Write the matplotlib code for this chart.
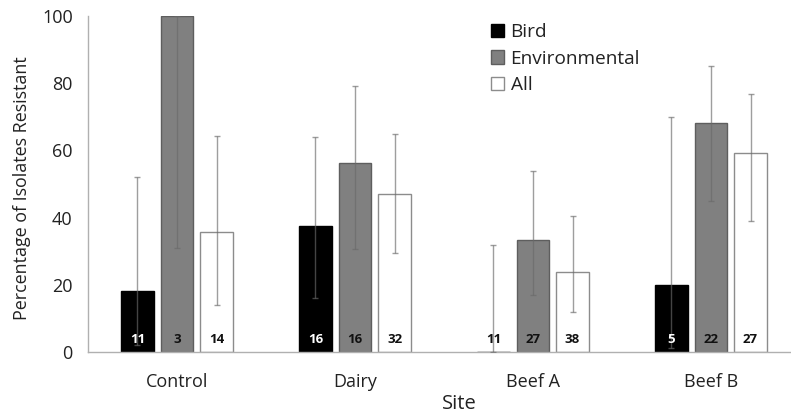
import matplotlib
matplotlib.use("Agg")
import matplotlib.pyplot as plt
import numpy as np
from matplotlib.patches import Patch

plt.rcParams['font.family'] = ['Open Sans', 'DejaVu Sans']

sites = ["Control", "Dairy", "Beef A", "Beef B"]
series = ["Bird", "Environmental", "All"]

# percentage of isolates resistant
bird_pct = [18.2, 37.5, 0.0, 20.0]
env_pct = [100.0, 56.25, 33.3, 68.2]
all_pct = [35.7, 46.9, 23.7, 59.3]

# confidence interval bounds
bird_lo = [2.0, 16.2, 0.0, 1.1]
bird_hi = [52.1, 63.9, 31.9, 69.8]
env_lo = [30.9, 30.7, 17.1, 44.8]
env_hi = [100.0, 79.1, 54.0, 85.0]
all_lo = [13.9, 29.4, 11.9, 38.9]
all_hi = [64.2, 64.9, 40.5, 76.7]

# number of isolates
bird_n = [11, 16, 11, 5]
env_n = [3, 16, 27, 22]
all_n = [14, 32, 38, 27]

fig = plt.figure(figsize=(7.91, 4.13), dpi=100)
ax = fig.add_axes([88 / 791, 61 / 413, (800 - 88) / 791, 336 / 413])

x = np.arange(len(sites))
step = 0.222
width = 0.18

styles = [
    dict(face="#000000", edge="#000000", txt="white"),
    dict(face="#808080", edge="#5e5e5e", txt="#111111"),
    dict(face="#ffffff", edge="#8c8c8c", txt="#111111"),
]
vals = [bird_pct, env_pct, all_pct]
los = [bird_lo, env_lo, all_lo]
his = [bird_hi, env_hi, all_hi]
ns = [bird_n, env_n, all_n]

for i, (v, lo, hi, n, st) in enumerate(zip(vals, los, his, ns, styles)):
    pos = x + (i - 1) * step
    v = np.array(v)
    ax.bar(pos, v, width=width, color=st["face"], edgecolor=st["edge"],
           linewidth=1.0, zorder=2)
    yerr = np.vstack([v - np.array(lo), np.array(hi) - v])
    ax.errorbar(pos, v, yerr=yerr, fmt="none", ecolor="#6a6a6a", alpha=0.65,
                elinewidth=1.0, capsize=2.5, capthick=1.0, zorder=3)
    for p, val, cnt in zip(pos, v, n):
        color = st["txt"] if val > 0 else "#111111"
        ax.text(p, 3.6, str(cnt), ha="center", va="center", fontsize=9.5,
                fontweight="bold", color=color, zorder=4)

text_color = "#222222"
ax.set_xlim(-0.5, 3.5)
ax.set_ylim(0, 100)
ax.set_yticks([0, 20, 40, 60, 80, 100])
ax.set_xticks(x)
ax.set_xticklabels(sites, fontsize=13, color=text_color)
ax.tick_params(axis="y", labelsize=13, length=0, pad=11, labelcolor=text_color)
ax.tick_params(axis="x", length=0, pad=15)
for s in ["top", "right"]:
    ax.spines[s].set_visible(False)
for s in ["left", "bottom"]:
    ax.spines[s].set_color("#b0b0b0")
    ax.spines[s].set_linewidth(1.0)

ax.set_ylabel("Percentage of Isolates Resistant", fontsize=12.9,
              color=text_color)
ax.yaxis.set_label_coords(-57 / 712, 0.487)
fig.text(459 / 791, 1 - 404 / 413, "Site", ha="center", va="center",
         fontsize=14.5, color=text_color)

handles = [Patch(facecolor=st["face"], edgecolor=st["edge"], linewidth=1.0)
           for st in styles]
leg = ax.legend(handles, series, loc="upper left",
                bbox_to_anchor=((483 - 88) / 712, 1.002), frameon=False,
                fontsize=13.7, handlelength=0.7, handleheight=0.7,
                handletextpad=0.35, labelspacing=0.45, borderaxespad=0)
for t in leg.get_texts():
    t.set_color(text_color)

fig.savefig("out.png", dpi=100)
